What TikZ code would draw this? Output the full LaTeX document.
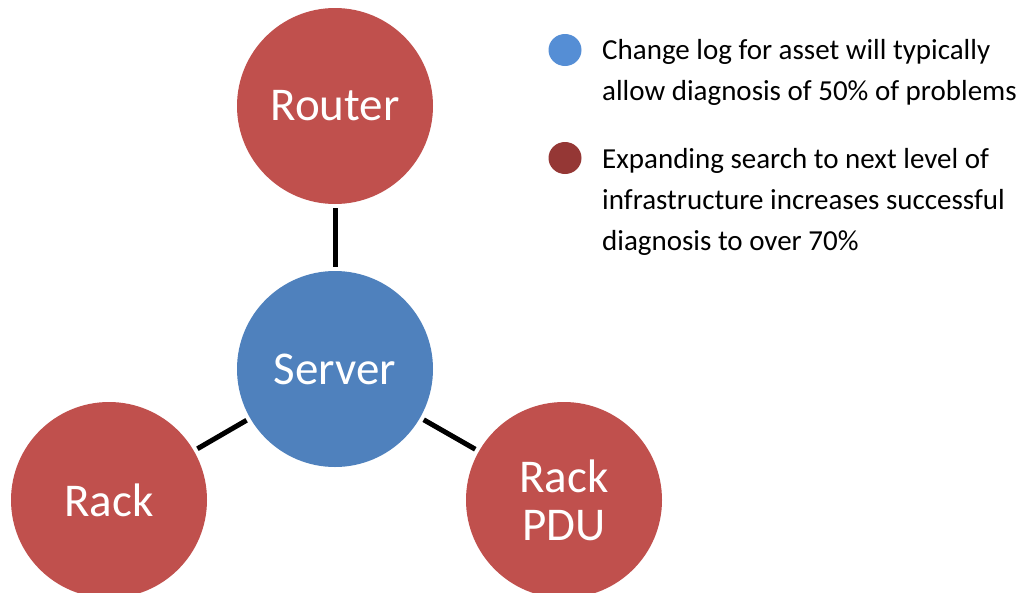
\documentclass[tikz,border=0pt]{standalone}
\usepackage{fontspec}
\setmainfont{Carlito}
\usepackage{xcolor}
\definecolor{server}{RGB}{79,129,189}
\definecolor{infra}{RGB}{192,80,77}
\definecolor{serverdot}{RGB}{85,142,213}
\definecolor{infradot}{RGB}{149,55,53}
\tikzstyle{asset}=[circle, minimum size=196pt, inner sep=0pt, text=white, align=center, font=\fontsize{47}{48}\selectfont]
\tikzstyle{dot}=[ellipse, minimum width=33pt, minimum height=32pt, inner sep=0pt]
\tikzstyle{legend}=[anchor=base west, align=left, inner sep=0pt, font=\fontsize{29}{41}\selectfont]
\tikzstyle{link}=[line width=5pt, shorten <=4pt, shorten >=4pt]
\usetikzlibrary{shapes.geometric}

\begin{document}
\begin{tikzpicture}[x=1pt,y=-1pt]
  \useasboundingbox (0,0) rectangle (1031,592);
  \draw (335,106) node[asset,fill=infra] (Router) {Router};
  \draw (335,369) node[asset,fill=server] (Server) {Server};
  \draw (109,500) node[asset,fill=infra] (Rack) {Rack};
  \draw (564,500) node[asset,fill=infra] (PDU) {Rack\\PDU};

  \draw[link] (Server) -- (Router);
  \draw[link] (Server) -- (Rack);
  \draw[link] (Server) -- (PDU);

  %% Legend things
  \draw (565,50) node[dot,fill=serverdot] (Dot1) {};
  \draw (565,158) node[dot,fill=infradot] (Dot2) {};
  \draw (602,100) node[legend] (Leg1) {Change log for asset will typically\\allow diagnosis of 50\% of problems};
  \draw (602,250) node[legend] (Leg2) {Expanding search to next level of\\infrastructure increases successful\\diagnosis to over 70\%};
\end{tikzpicture}
\end{document}
